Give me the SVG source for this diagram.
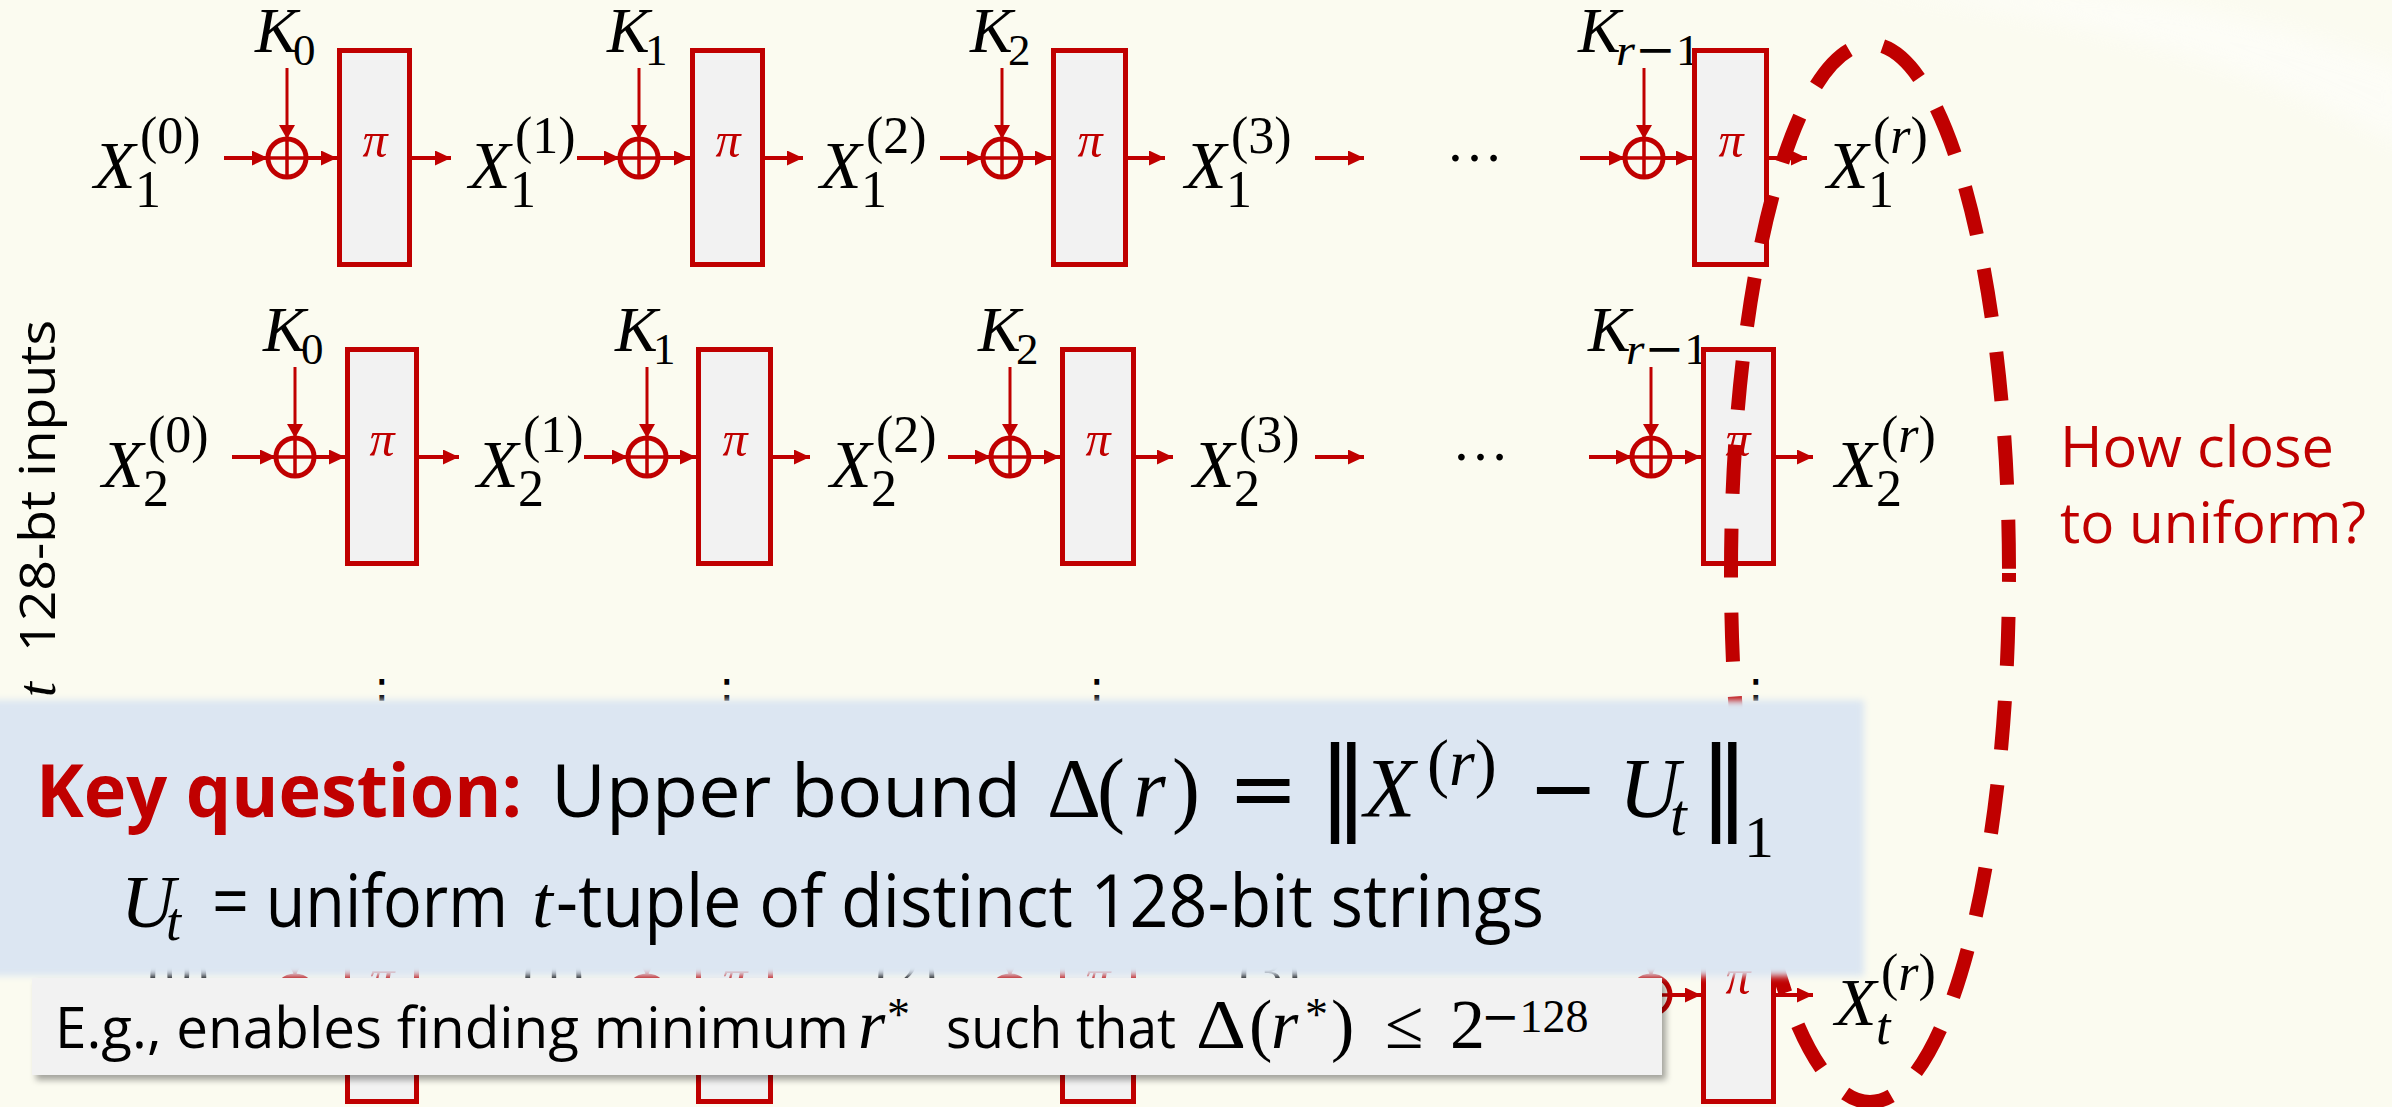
<svg xmlns="http://www.w3.org/2000/svg" width="2392" height="1107" viewBox="0 0 2392 1107">
<style>
.bg{fill:#fbfbf0}
.ln{stroke:#c00000;stroke-width:4;fill:none}
.kl{stroke:#c00000;stroke-width:3;fill:none}
.box{fill:#f2f2f2;stroke:#c00000;stroke-width:5}
.xor{fill:none;stroke:#c00000;stroke-width:5}
.xl{stroke:#c00000;stroke-width:3.5}
.mi{font-family:"Liberation Serif",serif;font-style:italic;fill:#000}
.mn{font-family:"Liberation Serif",serif;fill:#000}
.op{font-family:"DejaVu Sans",sans-serif;fill:#000}
.X{font-size:68px}
.K{font-size:64px}
.s{font-size:52px}
.ks{font-size:45px}
.pi{font-family:"Liberation Serif",serif;font-style:italic;fill:#c00000;font-size:50px;text-anchor:middle}
.dots{font-family:"Liberation Serif",serif;font-size:57px;fill:#000}
.vd{font-family:"DejaVu Sans",sans-serif;font-size:46px;fill:#000;text-anchor:middle}
.sans{font-family:"Open Sans","Noto Sans",sans-serif;fill:#000}
.red{fill:#c00000}
.dash{fill:none;stroke:#c00000;stroke-width:14;stroke-dasharray:49 35;stroke-dashoffset:40}
</style>
<defs>
<marker id="ah" markerUnits="userSpaceOnUse" viewBox="0 0 16 15" refX="16" refY="7.5" markerWidth="16" markerHeight="15" orient="auto"><path d="M0,0 L16,7.5 L0,15 z" fill="#c00000"/></marker>
<marker id="ak" markerUnits="userSpaceOnUse" viewBox="0 0 14 16" refX="14" refY="8" markerWidth="14" markerHeight="16" orient="auto"><path d="M0,0 L14,8 L0,16 z" fill="#c00000"/></marker>
<filter id="soft" x="-2%" y="-10%" width="104%" height="120%"><feGaussianBlur stdDeviation="3.5"/></filter>
<filter id="shadow" x="-2%" y="-20%" width="104%" height="150%"><feDropShadow dx="4" dy="5" stdDeviation="3" flood-color="#000" flood-opacity="0.35"/></filter>
<filter id="swb" x="-10%" y="-50%" width="120%" height="200%"><feGaussianBlur stdDeviation="12"/></filter>
</defs>
<rect class="bg" x="0" y="0" width="2392" height="1107"/>
<path d="M1820,-10 Q2150,10 2410,150 L2410,70 Q2200,-5 2050,-10 Z" fill="#ffffff" opacity="0.45" filter="url(#swb)"/>

<!-- Row 1 -->
<g id="row1">
<g id="r1-x0"><text class="mi X" x="94" y="188">X</text><text class="mn s" x="140" y="153">(0)</text><text class="mn s" x="135" y="207">1</text></g>
<g id="r1-k0"><text class="mi K" x="255" y="52">K</text><text class="mn ks" x="293" y="65">0</text></g>
<g id="r1-xor1"><circle class="xor" cx="287" cy="158" r="19"/><line class="xl" x1="268" y1="158" x2="306" y2="158"/><line class="xl" x1="287" y1="139" x2="287" y2="177"/></g>
<g id="r1-p1"><rect class="box" x="339.5" y="50.5" width="70" height="214"/><text class="pi" x="375" y="157">π</text></g>
<g id="r1-x1"><text class="mi X" x="469" y="188">X</text><text class="mn s" x="515" y="153">(1)</text><text class="mn s" x="510" y="207">1</text></g>
<g id="r1-k1"><text class="mi K" x="607" y="52">K</text><text class="mn ks" x="645" y="65">1</text></g>
<g id="r1-xor2"><circle class="xor" cx="639" cy="158" r="19"/><line class="xl" x1="620" y1="158" x2="658" y2="158"/><line class="xl" x1="639" y1="139" x2="639" y2="177"/></g>
<g id="r1-p2"><rect class="box" x="692.5" y="50.5" width="70" height="214"/><text class="pi" x="728" y="157">π</text></g>
<g id="r1-x2"><text class="mi X" x="820" y="188">X</text><text class="mn s" x="866" y="153">(2)</text><text class="mn s" x="861" y="207">1</text></g>
<g id="r1-k2"><text class="mi K" x="970" y="52">K</text><text class="mn ks" x="1008" y="65">2</text></g>
<g id="r1-xor3"><circle class="xor" cx="1002" cy="158" r="19"/><line class="xl" x1="983" y1="158" x2="1021" y2="158"/><line class="xl" x1="1002" y1="139" x2="1002" y2="177"/></g>
<g id="r1-p3"><rect class="box" x="1053.5" y="50.5" width="72" height="214"/><text class="pi" x="1090" y="157">π</text></g>
<g id="r1-x3"><text class="mi X" x="1185" y="188">X</text><text class="mn s" x="1231" y="153">(3)</text><text class="mn s" x="1226" y="207">1</text></g>
<text class="dots" x="1446" y="161">…</text>
<g id="r1-kr"><text class="mi K" x="1578" y="52">K</text><text class="ks" x="1616" y="65" textLength="84" lengthAdjust="spacingAndGlyphs"><tspan class="mi">r</tspan><tspan class="op">−</tspan><tspan class="mn">1</tspan></text></g>
<g id="r1-xor4"><circle class="xor" cx="1644" cy="158" r="19"/><line class="xl" x1="1625" y1="158" x2="1663" y2="158"/><line class="xl" x1="1644" y1="139" x2="1644" y2="177"/></g>
<g id="r1-p4"><rect class="box" x="1694.5" y="50.5" width="72" height="214"/><text class="pi" x="1731" y="157">π</text></g>
<g id="r1-xr"><text class="mi X" x="1827" y="188">X</text><text class="s" x="1873" y="153"><tspan class="mn">(</tspan><tspan class="mi">r</tspan><tspan class="mn">)</tspan></text><text class="mn s" x="1868" y="207">1</text></g>
</g>

<!-- Row 2 -->
<g id="row2">
<g id="r2-x0"><text class="mi X" x="102" y="487">X</text><text class="mn s" x="148" y="452">(0)</text><text class="mn s" x="143" y="506">2</text></g>
<g id="r2-k0"><text class="mi K" x="263" y="351">K</text><text class="mn ks" x="301" y="364">0</text></g>
<g id="r2-xor1"><circle class="xor" cx="295" cy="457" r="19"/><line class="xl" x1="276" y1="457" x2="314" y2="457"/><line class="xl" x1="295" y1="438" x2="295" y2="476"/></g>
<g id="r2-p1"><rect class="box" x="347.5" y="349.5" width="69" height="214"/><text class="pi" x="382" y="456">π</text></g>
<g id="r2-x1"><text class="mi X" x="477" y="487">X</text><text class="mn s" x="523" y="452">(1)</text><text class="mn s" x="518" y="506">2</text></g>
<g id="r2-k1"><text class="mi K" x="615" y="351">K</text><text class="mn ks" x="653" y="364">1</text></g>
<g id="r2-xor2"><circle class="xor" cx="647" cy="457" r="19"/><line class="xl" x1="628" y1="457" x2="666" y2="457"/><line class="xl" x1="647" y1="438" x2="647" y2="476"/></g>
<g id="r2-p2"><rect class="box" x="698.5" y="349.5" width="72" height="214"/><text class="pi" x="735" y="456">π</text></g>
<g id="r2-x2"><text class="mi X" x="830" y="487">X</text><text class="mn s" x="876" y="452">(2)</text><text class="mn s" x="871" y="506">2</text></g>
<g id="r2-k2"><text class="mi K" x="978" y="351">K</text><text class="mn ks" x="1016" y="364">2</text></g>
<g id="r2-xor3"><circle class="xor" cx="1010" cy="457" r="19"/><line class="xl" x1="991" y1="457" x2="1029" y2="457"/><line class="xl" x1="1010" y1="438" x2="1010" y2="476"/></g>
<g id="r2-p3"><rect class="box" x="1062.5" y="349.5" width="71" height="214"/><text class="pi" x="1098" y="456">π</text></g>
<g id="r2-x3"><text class="mi X" x="1193" y="487">X</text><text class="mn s" x="1239" y="452">(3)</text><text class="mn s" x="1234" y="506">2</text></g>
<text class="dots" x="1452" y="460">…</text>
<g id="r2-kr"><text class="mi K" x="1588" y="351">K</text><text class="ks" x="1626" y="364" textLength="82" lengthAdjust="spacingAndGlyphs"><tspan class="mi">r</tspan><tspan class="op">−</tspan><tspan class="mn">1</tspan></text></g>
<g id="r2-xor4"><circle class="xor" cx="1651" cy="457" r="19"/><line class="xl" x1="1632" y1="457" x2="1670" y2="457"/><line class="xl" x1="1651" y1="438" x2="1651" y2="476"/></g>
<g id="r2-p4"><rect class="box" x="1703.5" y="349.5" width="70" height="214"/><text class="pi" x="1738" y="456">π</text></g>
<g id="r2-xr"><text class="mi X" x="1835" y="487">X</text><text class="s" x="1881" y="452"><tspan class="mn">(</tspan><tspan class="mi">r</tspan><tspan class="mn">)</tspan></text><text class="mn s" x="1876" y="506">2</text></g>
</g>

<!-- vertical dots -->
<g id="vdots">
<text class="vd" x="382" y="712">⋮</text>
<text class="vd" x="727" y="712">⋮</text>
<text class="vd" x="1097" y="712">⋮</text>
<text class="vd" x="1756" y="712">⋮</text>
</g>

<!-- Row t -->
<g id="rowt">
<g id="rt-x0"><text class="mi X" x="102" y="1025">X</text><text class="mn s" x="148" y="990">(0)</text><text class="mi s" x="143" y="1044">t</text></g>
<g id="rt-k0"><text class="mi K" x="263" y="889">K</text><text class="mn ks" x="301" y="902">0</text></g>
<g id="rt-xor1"><circle class="xor" cx="295" cy="995" r="19"/><line class="xl" x1="276" y1="995" x2="314" y2="995"/><line class="xl" x1="295" y1="976" x2="295" y2="1014"/></g>
<g id="rt-p1"><rect class="box" x="347.5" y="887.5" width="69" height="214"/><text class="pi" x="382" y="994">π</text></g>
<g id="rt-x1"><text class="mi X" x="477" y="1025">X</text><text class="mn s" x="523" y="990">(1)</text><text class="mi s" x="518" y="1044">t</text></g>
<g id="rt-k1"><text class="mi K" x="615" y="889">K</text><text class="mn ks" x="653" y="902">1</text></g>
<g id="rt-xor2"><circle class="xor" cx="647" cy="995" r="19"/><line class="xl" x1="628" y1="995" x2="666" y2="995"/><line class="xl" x1="647" y1="976" x2="647" y2="1014"/></g>
<g id="rt-p2"><rect class="box" x="698.5" y="887.5" width="72" height="214"/><text class="pi" x="735" y="994">π</text></g>
<g id="rt-x2"><text class="mi X" x="830" y="1025">X</text><text class="mn s" x="876" y="990">(2)</text><text class="mi s" x="871" y="1044">t</text></g>
<g id="rt-k2"><text class="mi K" x="978" y="889">K</text><text class="mn ks" x="1016" y="902">2</text></g>
<g id="rt-xor3"><circle class="xor" cx="1010" cy="995" r="19"/><line class="xl" x1="991" y1="995" x2="1029" y2="995"/><line class="xl" x1="1010" y1="976" x2="1010" y2="1014"/></g>
<g id="rt-p3"><rect class="box" x="1062.5" y="887.5" width="71" height="214"/><text class="pi" x="1098" y="994">π</text></g>
<g id="rt-x3"><text class="mi X" x="1193" y="1025">X</text><text class="mn s" x="1239" y="990">(3)</text><text class="mi s" x="1234" y="1044">t</text></g>
<g id="rt-kr"><text class="mi K" x="1588" y="889">K</text><text class="ks" x="1626" y="902" textLength="82" lengthAdjust="spacingAndGlyphs"><tspan class="mi">r</tspan><tspan class="op">−</tspan><tspan class="mn">1</tspan></text></g>
<g id="rt-xor4"><circle class="xor" cx="1651" cy="995" r="19"/><line class="xl" x1="1632" y1="995" x2="1670" y2="995"/><line class="xl" x1="1651" y1="976" x2="1651" y2="1014"/></g>
<g id="rt-p4"><rect class="box" x="1703.5" y="887.5" width="70" height="214"/><text class="pi" x="1738" y="994">π</text></g>
<g id="rt-xr"><text class="mi X" x="1835" y="1025">X</text><text class="s" x="1881" y="990"><tspan class="mn">(</tspan><tspan class="mi">r</tspan><tspan class="mn">)</tspan></text><text class="mi s" x="1876" y="1044">t</text></g>
</g>

<!-- connectors -->
<g id="connectors">
<g marker-end="url(#ah)" class="ln">
<line x1="224" y1="158" x2="268" y2="158"/><line x1="306" y1="158" x2="337" y2="158"/><line x1="412" y1="158" x2="451" y2="158"/>
<line x1="577" y1="158" x2="620" y2="158"/><line x1="658" y1="158" x2="690" y2="158"/><line x1="765" y1="158" x2="803" y2="158"/>
<line x1="940" y1="158" x2="983" y2="158"/><line x1="1021" y1="158" x2="1051" y2="158"/><line x1="1128" y1="158" x2="1165" y2="158"/>
<line x1="1315" y1="158" x2="1364" y2="158"/>
<line x1="1580" y1="158" x2="1625" y2="158"/><line x1="1663" y1="158" x2="1692" y2="158"/><line x1="1769" y1="158" x2="1807" y2="158"/>
<line x1="232" y1="457" x2="276" y2="457"/><line x1="314" y1="457" x2="345" y2="457"/><line x1="419" y1="457" x2="459" y2="457"/>
<line x1="584" y1="457" x2="628" y2="457"/><line x1="666" y1="457" x2="696" y2="457"/><line x1="773" y1="457" x2="810" y2="457"/>
<line x1="948" y1="457" x2="991" y2="457"/><line x1="1029" y1="457" x2="1060" y2="457"/><line x1="1136" y1="457" x2="1173" y2="457"/>
<line x1="1315" y1="457" x2="1364" y2="457"/>
<line x1="1589" y1="457" x2="1632" y2="457"/><line x1="1670" y1="457" x2="1701" y2="457"/><line x1="1776" y1="457" x2="1813" y2="457"/>
<line x1="232" y1="995" x2="276" y2="995"/><line x1="314" y1="995" x2="345" y2="995"/><line x1="419" y1="995" x2="459" y2="995"/>
<line x1="584" y1="995" x2="628" y2="995"/><line x1="666" y1="995" x2="696" y2="995"/><line x1="773" y1="995" x2="810" y2="995"/>
<line x1="948" y1="995" x2="991" y2="995"/><line x1="1029" y1="995" x2="1060" y2="995"/><line x1="1136" y1="995" x2="1173" y2="995"/>
<line x1="1315" y1="995" x2="1364" y2="995"/>
<line x1="1589" y1="995" x2="1632" y2="995"/><line x1="1670" y1="995" x2="1701" y2="995"/><line x1="1776" y1="995" x2="1813" y2="995"/>
</g>
<g marker-end="url(#ak)" class="kl">
<line x1="287" y1="68" x2="287" y2="139"/><line x1="639" y1="68" x2="639" y2="139"/><line x1="1002" y1="68" x2="1002" y2="139"/><line x1="1644" y1="68" x2="1644" y2="139"/>
<line x1="295" y1="367" x2="295" y2="438"/><line x1="647" y1="367" x2="647" y2="438"/><line x1="1010" y1="367" x2="1010" y2="438"/><line x1="1651" y1="367" x2="1651" y2="438"/>
<line x1="295" y1="905" x2="295" y2="976"/><line x1="647" y1="905" x2="647" y2="976"/><line x1="1010" y1="905" x2="1010" y2="976"/><line x1="1651" y1="905" x2="1651" y2="976"/>
</g>
</g>

<ellipse id="uniform-ellipse" class="dash" cx="1870" cy="573" rx="139" ry="529"/>

<g id="side-label">
<text class="mi" font-size="54" transform="translate(55,697) rotate(-90)">t</text>
<text class="sans" font-size="49" textLength="332" lengthAdjust="spacingAndGlyphs" transform="translate(55,652) rotate(-90)">128-bt inputs</text>
</g>

<g id="key-question">
<rect x="-20" y="700" width="1884" height="276" fill="#dce6f2" filter="url(#soft)"/>
<text class="sans red" font-weight="700" font-size="74" x="36" y="817" textLength="486" lengthAdjust="spacingAndGlyphs">Key question:</text>
<text class="sans" font-size="74" x="551" y="817" textLength="470" lengthAdjust="spacingAndGlyphs">Upper bound</text>
<text class="mn" font-size="84" x="1047" y="817">Δ</text>
<text class="mn" font-size="84" x="1097" y="817">(</text>
<text class="mi" font-size="84" x="1133" y="817">r</text>
<text class="mn" font-size="84" x="1172" y="817">)</text>
<text class="op" font-size="84" x="1228" y="817">=</text>
<text class="op" font-size="101" x="1318" y="819">‖</text>
<text class="mi" font-size="84" x="1364" y="817">X</text>
<text font-size="66" x="1427" y="785"><tspan class="mn">(</tspan><tspan class="mi">r</tspan><tspan class="mn">)</tspan></text>
<text class="op" font-size="84" x="1528" y="817">−</text>
<text class="mi" font-size="84" x="1619" y="817">U</text>
<text class="mi" font-size="60" x="1670" y="835">t</text>
<text class="op" font-size="101" x="1699" y="819">‖</text>
<text class="mn" font-size="60" x="1744" y="857">1</text>
<text class="mi" font-size="75" x="121" y="927">U</text>
<text class="mi" font-size="54" x="166" y="940">t</text>
<text class="sans" font-size="74" x="212" y="927" textLength="296" lengthAdjust="spacingAndGlyphs">= uniform</text>
<text class="mi" font-size="75" x="532" y="927">t</text>
<text class="sans" font-size="74" x="556" y="927" textLength="988" lengthAdjust="spacingAndGlyphs">-tuple of distinct 128-bit strings</text>
</g>

<g id="example">
<rect x="32" y="978" width="1630" height="97" fill="#f2f2f2" filter="url(#shadow)"/>
<text class="sans" font-size="56" x="55" y="1048" textLength="794" lengthAdjust="spacingAndGlyphs">E.g., enables finding minimum</text>
<text class="mi" font-size="70" x="858" y="1048">r</text>
<text class="mn" font-size="46" x="887" y="1030">*</text>
<text class="sans" font-size="56" x="946" y="1048" textLength="230" lengthAdjust="spacingAndGlyphs">such that</text>
<text class="mn" font-size="70" x="1196" y="1048" textLength="50" lengthAdjust="spacingAndGlyphs">Δ</text>
<text class="mn" font-size="70" x="1249" y="1048">(</text>
<text class="mi" font-size="70" x="1271" y="1048">r</text>
<text class="mn" font-size="46" x="1305" y="1030">*</text>
<text class="mn" font-size="70" x="1331" y="1048">)</text>
<text class="mn" font-size="70" x="1385" y="1048">≤</text>
<text class="mn" font-size="70" x="1450" y="1048">2</text>
<text font-size="46" x="1481" y="1032"><tspan class="op">−</tspan><tspan class="mn">128</tspan></text>
</g>

<g id="note" class="sans red" font-size="56">
<text x="2060" y="467" textLength="274" lengthAdjust="spacingAndGlyphs">How close</text>
<text x="2060" y="543" textLength="306" lengthAdjust="spacingAndGlyphs">to uniform?</text>
</g>
</svg>
